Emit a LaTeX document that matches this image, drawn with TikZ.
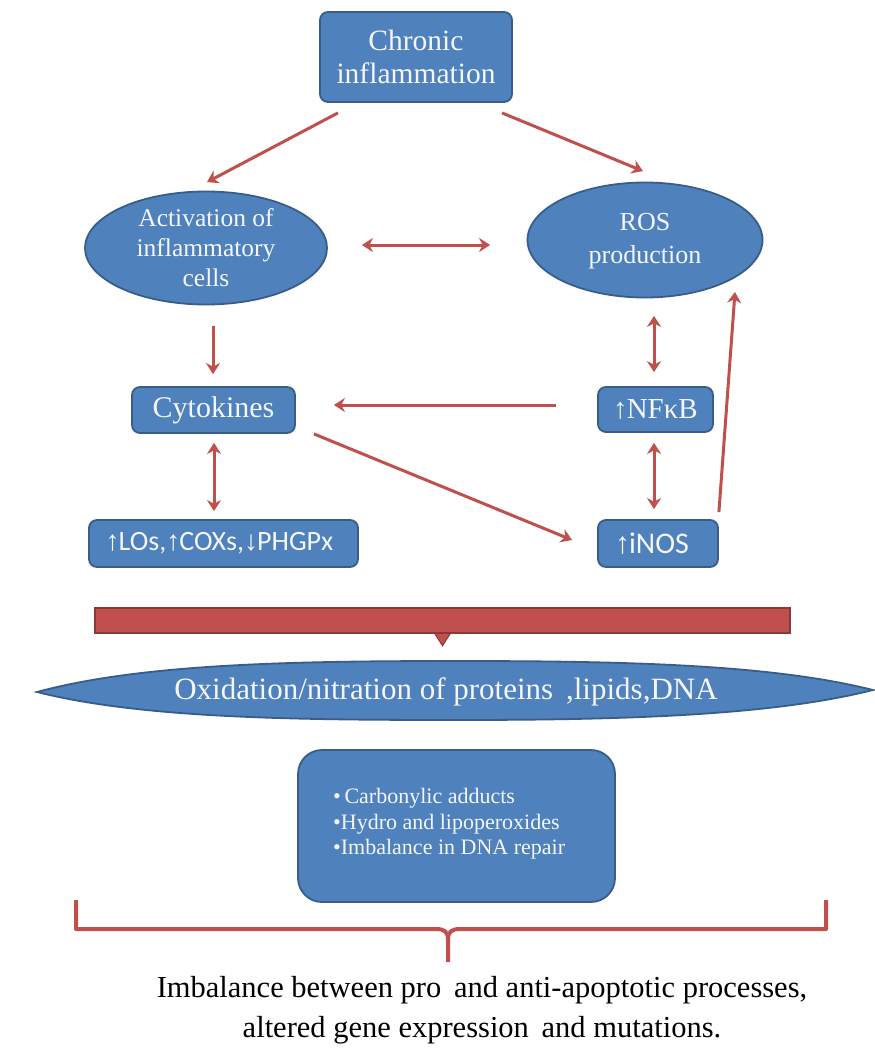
\documentclass[tikz,border=0pt]{standalone}
\usepackage{fontspec}
\setmainfont{Liberation Serif}
\newfontfamily\calfont{Carlito}
\newfontfamily\arrowfont{Liberation Serif}
\newcommand\uarr{{\arrowfont ↑}\kern-1pt}
\newcommand\darr{{\arrowfont ↓}\kern-1pt}
\usetikzlibrary{arrows.meta,shapes.geometric}
\definecolor{boxblue}{HTML}{4F81BD}
\definecolor{boxedge}{HTML}{385D8A}
\definecolor{arrred}{HTML}{C0504D}
\definecolor{baredge}{HTML}{8C3836}
\definecolor{txtw}{HTML}{F4F6FA}
\begin{document}
\begin{tikzpicture}[x=1pt,y=-1pt,
  bluebox/.style={draw=boxedge, line width=1.8pt, fill=boxblue, rounded corners=8pt, text=txtw, inner sep=0pt, align=center},
  blueell/.style={draw=boxedge, line width=1.8pt, fill=boxblue, ellipse, inner sep=0pt},
  wtext/.style={text=txtw, align=center, inner sep=0pt},
  conn/.style={draw=arrred, line width=3pt, -{Stealth[length=11pt,width=14pt]}},
  bicon/.style={draw=arrred, line width=3pt, {Stealth[length=11pt,width=14pt]}-{Stealth[length=11pt,width=14pt]}},
  bracestyle/.style={draw=arrred, line width=4pt, line join=round}]
\useasboundingbox (0,0) rectangle (875,1057);
\fill[white] (0,0) rectangle (875,1057);

% top box
\node[bluebox, minimum width=192pt, minimum height=90pt,
  font=\fontsize{29.5}{33}\selectfont] (chronic) at (416,57) {Chronic\\inflammation};

% ellipses
\node[blueell, minimum width=242pt, minimum height=113pt] (act) at (206,248) {};
\node[wtext, font=\fontsize{25.5}{30}\selectfont] (acttxt) at (206,248) {Activation of\\inflammatory\\cells};
\node[blueell, minimum width=235pt, minimum height=115pt] (ros) at (645,240) {};
\node[wtext, font=\fontsize{26}{33}\selectfont] (rostxt) at (645,241) {ROS\\production};

% middle boxes
\node[bluebox, minimum width=163pt, minimum height=46pt,
  font=\fontsize{30}{30}\selectfont] (cyto) at (213.5,410) {Cytokines};
\node[bluebox, minimum width=115pt, minimum height=45pt,
  font=\fontsize{29}{30}\selectfont] (nfkb) at (655.5,409.5) {\uarr NFκB};
\node[bluebox, minimum width=269pt, minimum height=47pt,
  font=\calfont\fontsize{28}{30}\selectfont] (los) at (223.5,543.5) {\uarr LOs,\uarr COXs,\darr PHGPx\hspace{8pt}};
\node[bluebox, minimum width=120pt, minimum height=47pt,
  font=\calfont\fontsize{30}{30}\selectfont] (inos) at (658,543.5) {\uarr iNOS\hspace{12pt}};

% connectors
\draw[conn] ([shift={(-78,10)}]chronic.south) -- ([shift={(1,-8.5)}]act.north);
\draw[conn] ([shift={(86,10)}]chronic.south) -- ([shift={(-2,-10.5)}]ros.north);
\draw[bicon] ([shift={(34,-3)}]act.east) -- ([shift={(-36.5,5)}]ros.west);
\draw[conn] ([shift={(7,20.5)}]act.south) -- ([shift={(-0.5,-12)}]cyto.north);
\draw[bicon] ([shift={(9,17.5)}]ros.south) -- ([shift={(-1.5,-14)}]nfkb.north);
\draw[conn] ([shift={(-41,-4.5)}]nfkb.west) -- ([shift={(38,-5)}]cyto.east);
\draw[bicon] ([shift={(0.5,9)}]cyto.south) -- ([shift={(-9.5,-8)}]los.north);
\draw[conn] ([shift={(18,0)}]cyto.south east) -- ([shift={(-25,-3.5)}]inos.west);
\draw[bicon] ([shift={(-1.5,10)}]nfkb.south) -- ([shift={(-4,-10)}]inos.north);
\draw[conn] ([shift={(0,-7)}]inos.north east) -- ([shift={(90,52)}]ros.center);

% red bar with pointer
\node[draw=baredge, fill=arrred, line width=1.5pt, minimum width=695pt, minimum height=25pt, inner sep=0pt] (bar) at (442.5,620.5) {};
\filldraw[fill=arrred, draw=baredge, line width=1pt] ([shift={(-8,-0.5)}]bar.south) -- ([shift={(0,12)}]bar.south) -- ([shift={(8,-0.5)}]bar.south) -- cycle;

% lens shaped ellipse
\filldraw[fill=boxblue, draw=boxedge, line width=1.8pt]
  (37,692) .. controls (140,664) and (290,661) .. (455,661)
  .. controls (620,661) and (770,664) .. (873,690)
  .. controls (770,716) and (620,720) .. (455,720)
  .. controls (290,720) and (140,718) .. (37,692) -- cycle;
\node[wtext, font=\fontsize{31}{32}\selectfont] (oxid) at (446,692) {Oxidation/nitration of proteins \,,lipids,DNA};

% effects box
\node[bluebox, rounded corners=24pt, minimum width=317pt, minimum height=152pt] (eff) at (456.5,826) {};
\node[text=txtw, align=left, inner sep=0pt, anchor=west, font=\fontsize{22}{25.5}\selectfont] (efftxt) at (333,824)
  {•\,Carbonylic adducts\\•Hydro and lipoperoxides\\•Imbalance in DNA repair};

% bracket
\draw[bracestyle] (76,900) -- (76,929) -- (436,929) .. controls (445,929) and (448,932) .. (448,940) -- (448,962);
\draw[bracestyle] (826,900) -- (826,929) -- (460,929) .. controls (451,929) and (448,932) .. (448,940);

% bottom text
\node[align=center, inner sep=0pt, font=\fontsize{30.5}{40}\selectfont] (result) at (482,1010)
  {Imbalance between pro\, and anti-apoptotic processes,\\altered gene expression\, and mutations.};
\end{tikzpicture}
\end{document}
